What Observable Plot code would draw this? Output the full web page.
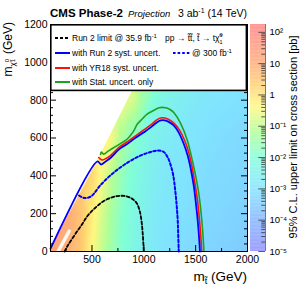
<!DOCTYPE html>
<html><head><meta charset="utf-8">
<script src="https://cdn.jsdelivr.net/npm/d3@7"></script>
<script src="https://cdn.jsdelivr.net/npm/@observablehq/plot@0.6"></script>
<style>
html,body{margin:0;padding:0;background:#fff;}
#wrap{position:relative;width:305px;height:293px;overflow:hidden;font-family:"Liberation Sans",Arial,sans-serif;}
#wrap > svg{position:absolute;top:0;left:0;}
</style></head><body><div id="wrap"></div>
<script>
// ---- heat map samples: cross-section upper limit [pb] on a coarse (m_stop, m_LSP) grid
const heatStop = [100,200,300,400,500,600,700,800,900,1000,1100,1200,1400,1600,1800,2000];
const heatLsp = [0,200,400,600,800,1000,1200];
const limitLsp0    = [15,10,6,2.5,0.4,0.1,0.03,0.01,0.005,0.0025,0.0015,0.001,0.0007,0.0005,0.0004,0.0003];
const limitLsp200  = [15,12,8,3,0.6,0.15,0.04,0.013,0.006,0.003,0.0018,0.0012,0.0008,0.0006,0.0005,0.0004];
const limitLsp400  = [3,3,3,3,1.5,0.3,0.07,0.02,0.008,0.004,0.0022,0.0015,0.001,0.0007,0.0006,0.0005];
const limitLsp600  = [1,1,1,1,1,0.8,0.25,0.05,0.015,0.006,0.003,0.002,0.0012,0.0009,0.0007,0.0006];
const limitLsp800  = [0.3,0.3,0.3,0.3,0.3,0.3,0.3,0.3,0.15,0.03,0.008,0.004,0.002,0.0012,0.001,0.0008];
const limitLsp1000 = [0.2,0.2,0.2,0.2,0.2,0.2,0.2,0.2,0.2,0.2,0.05,0.01,0.003,0.0015,0.0012,0.001];
const limitLsp1200 = [0.1,0.1,0.1,0.1,0.1,0.1,0.1,0.1,0.1,0.1,0.1,0.05,0.005,0.002,0.0015,0.0012];
const limitRows = [limitLsp0,limitLsp200,limitLsp400,limitLsp600,limitLsp800,limitLsp1000,limitLsp1200];

// ---- kinematic boundary (white, no signal) and the m_stop - m_LSP ~ m_top gap
const edgeStop = [100, 553, 894, 1200];
const edgeLsp  = [12, 476, 852, 1200];
const gapStop = [173, 280];
const gapLsp  = [0, 108];

// ---- exclusion contours
const run2Stop = [235,265,330,400,460,530,600,680,760,830,890,935,960,978,990,997,1000];
const run2Lsp  = [0,30,85,140,190,230,262,284,294,292,278,252,215,160,90,30,0];

const lumi300Stop = [375,423,490,587,712,846,971,1067,1135,1192,1231,1260,1284,1303,1317,1327,1332,1337];
const lumi300Lsp  = [296,283,291,354,418,471,508,526,534,526,497,455,402,323,243,164,85,0];

const run2SystStop = [100,553,587,625,683,760,846,913,1000,1067,1125,1163,1202,1240,1288,1336,1384,1423,1452,1481,1505,1524,1538,1541];
const run2SystLsp  = [15,476,460,473,497,540,571,598,630,656,682,693,693,685,667,630,571,508,439,349,243,138,32,0];

const yr18Stop = [565,596,635,683,760,846,913,1000,1067,1125,1163,1202,1240,1288,1346,1394,1433,1462,1490,1519,1538,1551,1558];
const yr18Lsp  = [497,484,492,510,550,582,608,643,669,696,706,706,698,680,640,587,524,455,370,265,159,69,0];

const statStop = [582,590,612,660,747,843,900,939,971,1035,1067,1147,1211,1260,1291,1356,1420,1468,1500,1532,1555,1570,1580];
const statLsp  = [513,526,515,532,561,596,635,675,693,728,737,760,760,748,733,676,587,481,400,300,190,90,0];

// ---- ticks
const xMajor = [500,1000,1500,2000];
const xMinor = [250,750,1250,1750];
const yMajor = [0,200,400,600,800,1000,1200];
const yMinor = d3.range(40,1200,40).filter(v => v % 200 !== 0);
const cbMajor = [1e-5,1e-4,1e-3,1e-2,1e-1,1,10,100];
const cbLabels = ["10\u207B\u2075","10\u207B\u2074","10\u207B\u00B3","10\u207B\u00B2","10\u207B\u00B9","1","10","10\u00B2"];

// ---- build tables
const heatPts = [];
heatLsp.forEach((l, j) => heatStop.forEach((s, i) => heatPts.push({stop: s, lsp: l, limit: limitRows[j][i]})));
const pts = (xs, ys) => xs.map((x, i) => ({x, y: ys[i]}));

const colorScale = {
  type: "linear",
  domain: [-5, -4, -3, -2, -1.2, -0.4, 0.3, 1, 2.25],
  range: ["#8c8cff","#80b4ff","#80e4ff","#80ffd8","#b0ff98","#fff880","#ffd070","#ffaa78","#ff8080"],
  interpolate: "rgb"
};

const W = 305, H = 293, ML = 50, MR = 58, MT = 24, MB = 42;
const frameW = W - ML - MR, frameH = H - MT - MB;
const font = '"Liberation Sans", Arial, sans-serif';

const heatMark = Plot.raster
  ? Plot.raster(heatPts, {x: "stop", y: "lsp", fill: d => Math.log10(d.limit), x1: 100, x2: 2000, y1: 0, y2: 1200, interpolate: "barycentric"})
  : Plot.rect(heatPts, {x1: d => d.stop - 50, x2: d => d.stop + 50, y1: d => d.lsp - 100, y2: d => d.lsp + 100, fill: d => Math.log10(d.limit)});

const curve = "catmull-rom";
const main = Plot.plot({
  width: W, height: H,
  marginLeft: ML, marginRight: MR, marginTop: MT, marginBottom: MB,
  style: {fontFamily: font, fontSize: "10.5px", color: "#000", background: "transparent", overflow: "visible"},
  x: {domain: [100, 2000]},
  y: {domain: [0, 1200]},
  color: colorScale,
  marks: [
    heatMark,
    Plot.areaX(pts(edgeStop, edgeLsp), {y: "y", x1: 100, x2: "x", fill: "white"}),
    Plot.line(pts(gapStop, gapLsp), {x: "x", y: "y", stroke: "white", strokeWidth: 3.5, strokeOpacity: 0.9}),
    Plot.line(pts(run2Stop, run2Lsp), {x: "x", y: "y", stroke: "black", strokeWidth: 1.8, strokeDasharray: "3,2.2", curve}),
    Plot.line(pts(lumi300Stop, lumi300Lsp), {x: "x", y: "y", stroke: "#0000ff", strokeWidth: 2, strokeDasharray: "2.6,2.2", curve}),
    Plot.line(pts(statStop, statLsp), {x: "x", y: "y", stroke: "#1fa01f", strokeWidth: 1.6, curve}),
    Plot.line(pts(yr18Stop, yr18Lsp), {x: "x", y: "y", stroke: "#ff1010", strokeWidth: 1.6, curve}),
    Plot.line(pts(run2SystStop, run2SystLsp), {x: "x", y: "y", stroke: "#0000ff", strokeWidth: 1.8, curve}),
    Plot.tickY(yMajor, {y: d => d, insetRight: frameW - 6, stroke: "#000"}),
    Plot.tickY(yMinor, {y: d => d, insetRight: frameW - 3, stroke: "#000"}),
    Plot.tickY(yMajor, {y: d => d, insetLeft: frameW - 6, stroke: "#000"}),
    Plot.tickY(yMinor, {y: d => d, insetLeft: frameW - 3, stroke: "#000"}),
    Plot.tickX(xMajor, {x: d => d, insetTop: frameH - 6, stroke: "#000"}),
    Plot.tickX(xMinor, {x: d => d, insetTop: frameH - 3, stroke: "#000"}),
    Plot.frame({stroke: "#000", strokeWidth: 1}),
    Plot.axisX({ticks: xMajor, tickSize: 0, tickPadding: 4, tickFormat: d => String(d), label: null}),
    Plot.axisY({ticks: yMajor, tickSize: 0, tickPadding: 3, tickFormat: d => String(d), label: null})
  ]
});
document.getElementById("wrap").appendChild(main);

// ---- colour bar (full-width svg, bar between x=250 and x=265)
const cbSteps = d3.range(-5, 2.25, 0.025).map(v => ({v, lo: Math.pow(10, v), hi: Math.pow(10, Math.min(2.25, v + 0.025))}));
const cbMinor = [];
for (let e = -5; e <= 2; e++) for (let m = 2; m <= 9; m++) { const v = m * Math.pow(10, e); if (v < 178) cbMinor.push(v); }
const cb = Plot.plot({
  width: W, height: H,
  marginLeft: 250, marginRight: 40, marginTop: MT, marginBottom: MB,
  style: {fontFamily: font, fontSize: "9.5px", color: "#000", background: "transparent", overflow: "visible"},
  x: {domain: [0, 1], axis: null},
  y: {type: "log", domain: [1e-5, 178], axis: null},
  color: colorScale,
  marks: [
    Plot.rect(cbSteps, {x1: 0, x2: 1, y1: "lo", y2: "hi", fill: "v"}),
    Plot.ruleY(cbMajor, {y: d => d, x1: 0.55, x2: 1, stroke: "#333", strokeWidth: 0.8}),
    Plot.ruleY(cbMinor, {y: d => d, x1: 0.75, x2: 1, stroke: "#333", strokeWidth: 0.8}),
    Plot.ruleX([1], {stroke: "#555", strokeWidth: 0.8}),
    Plot.text(cbMajor, {y: d => d, x: 1, text: (d, i) => cbLabels[i], dx: 4, textAnchor: "start", fill: "#000", fontSize: 9.5})
  ]
});
document.getElementById("wrap").appendChild(cb);

// ---- titles and legend (text overlay)
const ns = "http://www.w3.org/2000/svg";
const ov = document.createElementNS(ns, "svg");
ov.setAttribute("width", W); ov.setAttribute("height", H);
ov.style.fontFamily = font;
ov.innerHTML = `
  <text x="50" y="17" font-size="11.5" font-weight="bold">CMS Phase-2</text>
  <text x="128" y="17" font-size="9.5" font-style="italic">Projection</text>
  <text x="247" y="17" font-size="10.5" text-anchor="end">3 ab<tspan font-size="7" dy="-4">-1</tspan><tspan dy="4"> (14 TeV)</tspan></text>
  <text transform="translate(12,22) rotate(-90)" text-anchor="end" font-size="12">m<tspan font-size="8" dy="3">χ̃</tspan><tspan font-size="6" dy="-6">0</tspan><tspan font-size="6" dy="6" dx="-3.3">1</tspan><tspan font-size="12" dy="-3" dx="1.5"> (GeV)</tspan></text>
  <text x="247" y="281" text-anchor="end" font-size="13.5">m<tspan font-size="9" dy="3">t̃</tspan><tspan font-size="13.5" dy="-3"> (GeV)</tspan></text>
  <text transform="translate(297,137) rotate(-90)" text-anchor="middle" font-size="11">95% C.L. upper limit on cross section [pb]</text>
  <rect x="50.8" y="24.8" width="195.6" height="65.6" fill="white" stroke="black" stroke-width="1.6"/>
  <g font-size="8.5">
    <line x1="55" x2="70" y1="38" y2="38" stroke="black" stroke-width="1.8" stroke-dasharray="3,2"/>
    <text x="72" y="41">Run 2 limit @ 35.9 fb<tspan font-size="6" dy="-3.5">-1</tspan></text>
    <text x="165" y="41">pp → t̃t̃, t̃ → tχ̃<tspan font-size="5.5" dy="-4">0</tspan><tspan font-size="5.5" dy="6.5" dx="-3">1</tspan></text>
    <line x1="55" x2="70" y1="53" y2="53" stroke="#0000ff" stroke-width="2"/>
    <text x="72" y="56">with Run 2 syst. uncert.</text>
    <line x1="173" x2="190" y1="53" y2="53" stroke="#0000ff" stroke-width="2" stroke-dasharray="2.6,2"/>
    <text x="192" y="56">@ 300 fb<tspan font-size="6" dy="-3.5">-1</tspan></text>
    <line x1="55" x2="70" y1="68" y2="68" stroke="#ff1010" stroke-width="2"/>
    <text x="72" y="71">with YR18 syst. uncert.</text>
    <line x1="55" x2="70" y1="82" y2="82" stroke="#1fa01f" stroke-width="2"/>
    <text x="72" y="85">with Stat. uncert. only</text>
  </g>`;
document.getElementById("wrap").appendChild(ov);
</script></body></html>
